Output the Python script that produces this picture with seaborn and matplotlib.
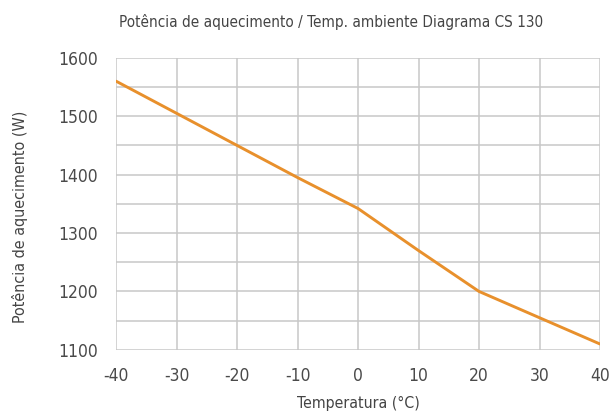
import matplotlib
matplotlib.use("Agg")
import matplotlib.pyplot as plt
import seaborn as sns
import pandas as pd
import numpy as np

temperatures = [-40, -30, -20, -10, 0, 10, 20, 30, 40]
power = [1560, 1505, 1450, 1395, 1342, 1270, 1200, 1155, 1110]
x_ticks = [-40, -30, -20, -10, 0, 10, 20, 30, 40]
y_ticks = [1100, 1200, 1300, 1400, 1500, 1600]

sns.set_theme(style="white")
plt.rcParams["axes.unicode_minus"] = False
df = pd.DataFrame({"Temperatura": temperatures, "Potencia": power})

fig = plt.figure(figsize=(6.11, 4.16), dpi=100)
ax = fig.add_axes([0.19, 0.159, 0.792, 0.702])

sns.lineplot(data=df, x="Temperatura", y="Potencia", ax=ax, color="#E8902C", linewidth=2.1)

ax.set_xlim(-40, 40)
ax.set_ylim(1100, 1600)
ax.set_xticks(x_ticks)
ax.set_yticks(y_ticks)
ax.set_yticks(np.arange(1150, 1600, 100), minor=True)
ax.grid(True, which="major", axis="both", color="#c8c8c8", linewidth=1.1)
ax.grid(True, which="minor", axis="y", color="#c8c8c8", linewidth=1.1)
ax.tick_params(axis="both", which="both", length=0, labelsize=12.5, labelcolor="#4a4a4a")
ax.tick_params(axis="y", pad=13)
ax.tick_params(axis="x", pad=12)
for lab in ax.get_xticklabels() + ax.get_yticklabels():
    lab.set_family("DejaVu Sans")
    lab.set_stretch("condensed")
for s in ax.spines.values():
    s.set_visible(False)
ax.set_axisbelow(True)

ax.set_xlabel("Temperatura (°C)", fontsize=11.3, color="#444444",
              family="DejaVu Sans", stretch="condensed")
ax.xaxis.set_label_coords(0.5, -0.158)
ax.set_ylabel("Potência de aquecimento (W)", fontsize=11.5, color="#444444",
              family="DejaVu Sans", stretch="condensed")
ax.yaxis.set_label_coords(-0.183, 0.455)
fig.text(0.542, 0.947, "Potência de aquecimento / Temp. ambiente Diagrama CS 130",
         ha="center", va="center", fontsize=11, color="#444444",
         family="DejaVu Sans", stretch="condensed")

fig.savefig("out.png", dpi=100, facecolor="white")
